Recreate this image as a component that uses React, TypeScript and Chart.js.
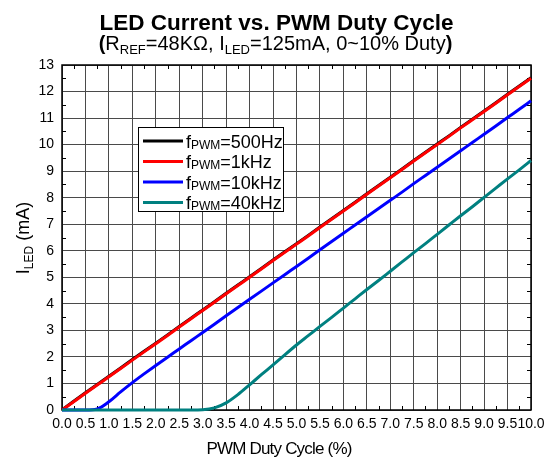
import React, { useEffect, useRef } from 'react';
import { Chart, registerables } from 'chart.js';

Chart.register(...registerables);

const dutyCycle = [
  0, 0.25, 0.5, 0.75, 1, 1.25, 1.5, 1.75, 2, 2.25, 2.5, 2.75, 3, 3.25, 3.5, 3.75, 4, 4.25, 4.5, 4.75,
  5, 5.25, 5.5, 5.75, 6, 6.25, 6.5, 6.75, 7, 7.25, 7.5, 7.75, 8, 8.25, 8.5, 8.75, 9, 9.25, 9.5, 9.75, 10,
];
const i500Hz = [
  0, 0.33, 0.65, 0.96, 1.27, 1.58, 1.9, 2.21, 2.52, 2.83, 3.15, 3.46, 3.77, 4.08, 4.4, 4.71, 5.02, 5.33,
  5.65, 5.96, 6.27, 6.58, 6.9, 7.21, 7.52, 7.83, 8.15, 8.46, 8.77, 9.08, 9.4, 9.71, 10.02, 10.33, 10.65,
  10.96, 11.27, 11.58, 11.9, 12.21, 12.52,
];
const i1kHz = [
  0, 0.31, 0.63, 0.94, 1.25, 1.56, 1.88, 2.19, 2.5, 2.81, 3.13, 3.44, 3.75, 4.06, 4.38, 4.69, 5.0, 5.31,
  5.63, 5.94, 6.25, 6.56, 6.88, 7.19, 7.5, 7.81, 8.13, 8.44, 8.75, 9.06, 9.38, 9.69, 10.0, 10.31, 10.63,
  10.94, 11.25, 11.56, 11.88, 12.19, 12.5,
];
const i10kHz = [
  0, 0, 0, 0.04, 0.31, 0.68, 1.03, 1.36, 1.68, 1.99, 2.3, 2.61, 2.92, 3.23, 3.55, 3.86, 4.17, 4.48, 4.79,
  5.1, 5.41, 5.72, 6.04, 6.35, 6.66, 6.97, 7.28, 7.59, 7.9, 8.21, 8.53, 8.84, 9.15, 9.46, 9.77, 10.08,
  10.39, 10.7, 11.02, 11.33, 11.65,
];
const i40kHz = [
  0, 0, 0, 0, 0, 0, 0, 0, 0, 0, 0, 0, 0.01, 0.08, 0.27, 0.58, 0.95, 1.33, 1.7, 2.08, 2.45, 2.8, 3.15, 3.49,
  3.84, 4.19, 4.54, 4.88, 5.23, 5.58, 5.93, 6.27, 6.62, 6.97, 7.32, 7.66, 8.01, 8.36, 8.71, 9.05, 9.4,
];
const seriesData = [i500Hz, i1kHz, i10kHz, i40kHz];
const seriesNames = ['=500Hz', '=1kHz', '=10kHz', '=40kHz'];
const seriesColors = ['#000000', '#ff0000', '#0000ff', '#008080'];
const xTickValues = [0, 0.5, 1, 1.5, 2, 2.5, 3, 3.5, 4, 4.5, 5, 5.5, 6, 6.5, 7, 7.5, 8, 8.5, 9, 9.5, 10];
const yTickValues = [0, 1, 2, 3, 4, 5, 6, 7, 8, 9, 10, 11, 12, 13];
const xMinorStep = 0.25;
const yMinorStep = 0.5;

const FONT = '"Liberation Sans", Arial, sans-serif';

type Part = { t: string; size: number; bold?: boolean; dy?: number };

function fontOf(p: Part) {
  return `${p.bold ? 'bold ' : ''}${p.size}px ${FONT}`;
}

function partsWidth(ctx: CanvasRenderingContext2D, parts: Part[]) {
  let w = 0;
  for (const p of parts) {
    ctx.font = fontOf(p);
    w += ctx.measureText(p.t).width;
  }
  return w;
}

function drawParts(ctx: CanvasRenderingContext2D, parts: Part[], x: number, y: number) {
  let cx = x;
  ctx.textAlign = 'left';
  ctx.textBaseline = 'alphabetic';
  for (const p of parts) {
    ctx.font = fontOf(p);
    ctx.fillText(p.t, cx, y + (p.dy || 0));
    cx += ctx.measureText(p.t).width;
  }
}

const decorPlugin = {
  id: 'decor',
  beforeDatasetsDraw(chart: any) {
    const { ctx, chartArea: a, scales } = chart;
    const xs = scales.x;
    const ys = scales.y;
    ctx.save();
    ctx.strokeStyle = '#000';
    ctx.lineWidth = 1;
    ctx.beginPath();
    for (let v = xMinorStep; v < 10; v += xMinorStep * 2) {
      const px = Math.round(xs.getPixelForValue(v)) + 0.5;
      ctx.moveTo(px, a.bottom);
      ctx.lineTo(px, a.bottom - 4);
      ctx.moveTo(px, a.top);
      ctx.lineTo(px, a.top + 4);
    }
    for (let v = yMinorStep; v < 13; v += yMinorStep * 2) {
      const py = Math.round(ys.getPixelForValue(v)) + 0.5;
      ctx.moveTo(a.left, py);
      ctx.lineTo(a.left + 4, py);
      ctx.moveTo(a.right, py);
      ctx.lineTo(a.right - 4, py);
    }
    ctx.stroke();
    ctx.lineWidth = 1.5;
    ctx.strokeRect(a.left, a.top, a.right - a.left, a.bottom - a.top);
    ctx.restore();
  },
  afterDraw(chart: any) {
    const { ctx } = chart;
    ctx.save();
    ctx.fillStyle = '#000';
    // title
    ctx.font = `bold 22.5px ${FONT}`;
    ctx.textAlign = 'center';
    ctx.textBaseline = 'alphabetic';
    ctx.fillText('LED Current vs. PWM Duty Cycle', 276.5, 29.5);
    // subtitle
    const sub: Part[] = [
      { t: '(', size: 20, bold: true },
      { t: 'R', size: 20 },
      { t: 'REF', size: 13, dy: 4 },
      { t: '=48KΩ, I', size: 20 },
      { t: 'LED', size: 13, dy: 4 },
      { t: '=125mA, 0~10% Duty', size: 20 },
      { t: ')', size: 20, bold: true },
    ];
    const sw = partsWidth(ctx, sub);
    drawParts(ctx, sub, 275.5 - sw / 2, 50);

    // x axis title
    ctx.font = `17px ${FONT}`;
    (ctx as any).letterSpacing = '-0.8px';
    ctx.textAlign = 'center';
    ctx.textBaseline = 'alphabetic';
    ctx.fillText('PWM Duty Cycle (%)', 279, 454);
    (ctx as any).letterSpacing = '0px';

    // y axis title
    ctx.save();
    ctx.translate(29, 238);
    ctx.rotate(-Math.PI / 2);
    const yt: Part[] = [
      { t: 'I', size: 18 },
      { t: 'LED', size: 12, dy: 4 },
      { t: ' (mA)', size: 18 },
    ];
    const yw = partsWidth(ctx, yt);
    drawParts(ctx, yt, -yw / 2, 0);
    ctx.restore();

    // legend
    const bx = 138.5, by = 127.5, bw = 145, bh = 84;
    ctx.fillStyle = '#fff';
    ctx.fillRect(bx, by, bw, bh);
    ctx.strokeStyle = '#000';
    ctx.lineWidth = 1;
    ctx.strokeRect(bx, by, bw, bh);
    const rows = [141, 161.5, 182, 202.5];
    rows.forEach((ry, i) => {
      ctx.strokeStyle = seriesColors[i];
      ctx.lineWidth = 3;
      ctx.beginPath();
      ctx.moveTo(143, ry);
      ctx.lineTo(183, ry);
      ctx.stroke();
      ctx.fillStyle = '#000';
      drawParts(
        ctx,
        [
          { t: 'f', size: 18 },
          { t: 'PWM', size: 12, dy: 1 },
          { t: seriesNames[i], size: 18 },
        ],
        186,
        ry + 6.5
      );
    });
    ctx.restore();
  },
};

export default function App() {
  const ref = useRef<HTMLCanvasElement>(null);
  useEffect(() => {
    document.body.style.margin = '0';
    const canvas = ref.current!;
    const labels = ['500Hz', '1kHz', '10kHz', '40kHz'];
    const chart = new Chart(canvas, {
      type: 'line',
      data: {
        datasets: seriesData.map((vals, i) => ({
          label: labels[i],
          data: dutyCycle.map((x, j) => ({ x, y: vals[j] })),
          borderColor: seriesColors[i],
          backgroundColor: seriesColors[i],
          borderWidth: 3,
          pointRadius: 0,
          cubicInterpolationMode: 'monotone' as const,
          clip: false as any,
          order: 4 - i,
        })),
      },
      options: {
        animation: false,
        responsive: false,
        devicePixelRatio: 1,
        layout: { padding: { left: 0, right: 24, top: 65, bottom: 0 } },
        plugins: {
          legend: { display: false },
          tooltip: { enabled: false },
          title: { display: false },
        },
        scales: {
          x: {
            type: 'linear',
            min: 0,
            max: 10,
            afterFit: (s: any) => {
              s.height = 54;
            },
            afterBuildTicks: (s: any) => {
              s.ticks = xTickValues.map((v) => ({ value: v }));
            },
            ticks: {
              autoSkip: false,
              maxRotation: 0,
              minRotation: 0,
              padding: 6,
              color: '#000',
              font: { family: FONT, size: 14 },
              callback: (v: any) => Number(v).toFixed(1),
            },
            grid: { color: '#4a4a4a', lineWidth: 1, drawTicks: false },
            border: { display: false },
          },
          y: {
            type: 'linear',
            min: 0,
            max: 13,
            afterFit: (s: any) => {
              s.width = 62;
            },
            afterBuildTicks: (s: any) => {
              s.ticks = yTickValues.map((v) => ({ value: v }));
            },
            ticks: {
              padding: 8,
              color: '#000',
              font: { family: FONT, size: 14 },
              callback: (v: any) => String(v),
            },
            grid: { color: '#4a4a4a', lineWidth: 1, drawTicks: false },
            border: { display: false },
          },
        },
      },
      plugins: [decorPlugin],
    });
    return () => chart.destroy();
  }, []);
  return (
    <div style={{ width: 555, height: 464 }}>
      <canvas ref={ref} width={555} height={464} style={{ display: 'block', width: 555, height: 464 }} />
    </div>
  );
}
